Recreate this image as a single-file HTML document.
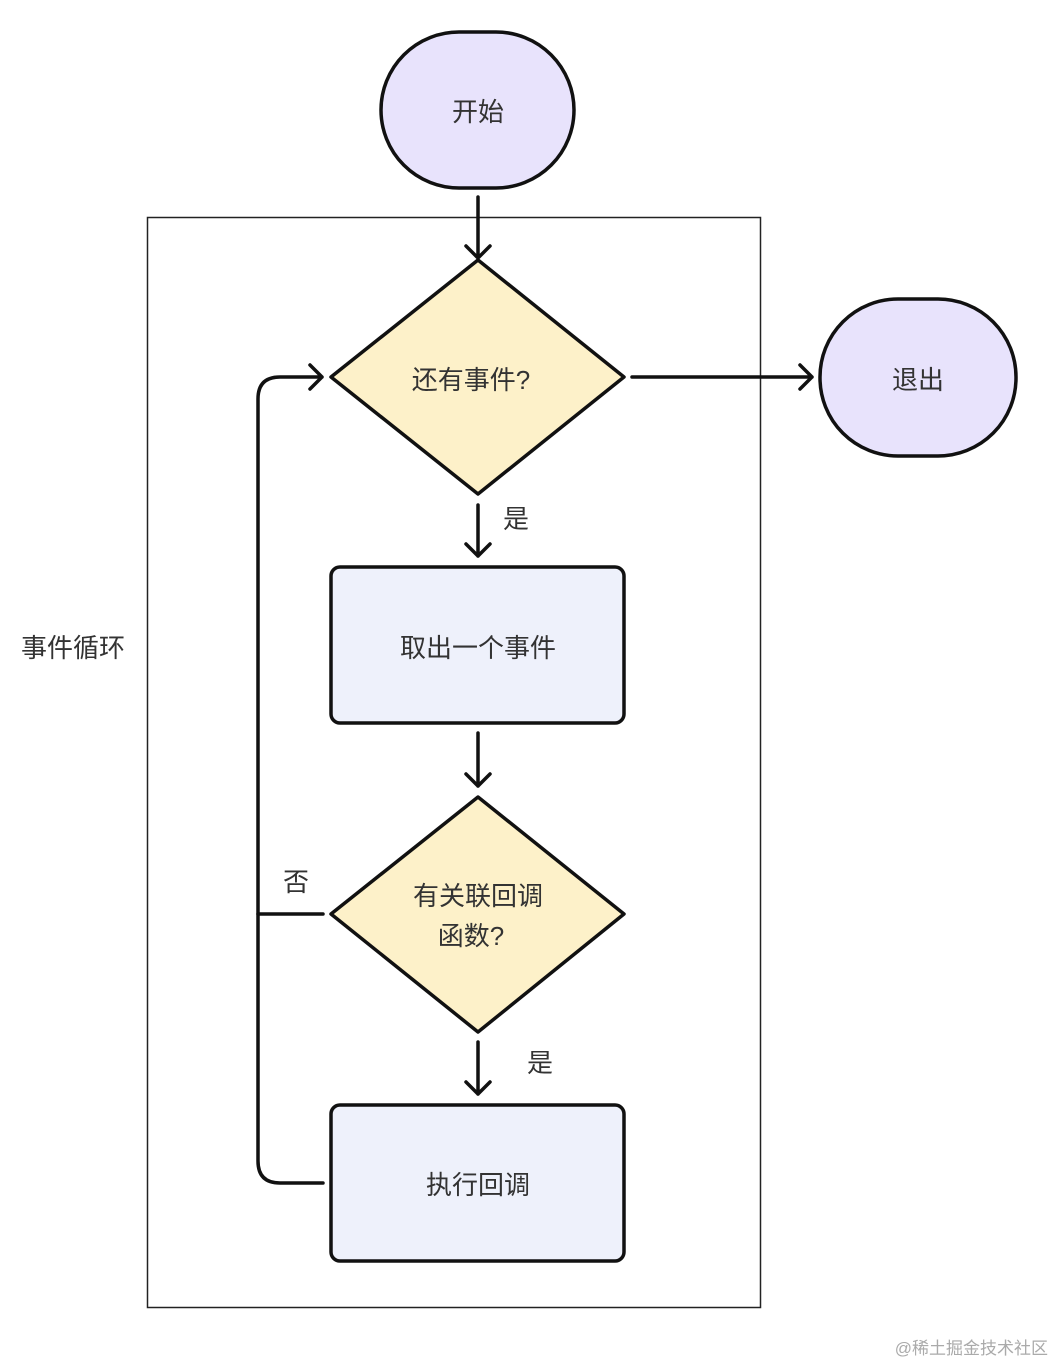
<!DOCTYPE html>
<html><head><meta charset="utf-8"><style>
html,body{margin:0;padding:0;background:#fff;}
svg text{font-family:"Liberation Sans","Noto Sans CJK SC",sans-serif;fill:#333;}
</style></head><body>
<svg width="1056" height="1364" viewBox="0 0 1056 1364" xmlns="http://www.w3.org/2000/svg">
<rect x="147.5" y="217.5" width="613" height="1090" fill="none" stroke="#222" stroke-width="1.5"/>
<g stroke="#111" stroke-width="3.5" fill="none" stroke-linecap="round" stroke-linejoin="round">
<rect x="381" y="32" width="193" height="156" rx="78" fill="#e8e3fc"/>
<rect x="820" y="299" width="196" height="157" rx="78" fill="#e8e3fc"/>
<polygon points="478,260 624,377 478,494 331,377" fill="#fdf1c9"/>
<polygon points="478,797 624,914 478,1032 331,914" fill="#fdf1c9"/>
<rect x="331" y="567" width="293" height="156" rx="9" fill="#eef1fb"/>
<rect x="331" y="1105" width="293" height="156" rx="9" fill="#eef1fb"/>
<path d="M478 197V258 M466 246L478 258L490 246"/>
<path d="M478 505V556 M466 544L478 556L490 544"/>
<path d="M478 733V786 M466 774L478 786L490 774"/>
<path d="M478 1042V1094 M466 1082L478 1094L490 1082"/>
<path d="M632 377H812 M800 365L812 377L800 389"/>
<path d="M323 1183H280Q258 1183 258 1161V399Q258 377 280 377H322 M310 365L322 377L310 389"/>
<path d="M323 914H258"/>
</g>
<g font-size="26" text-anchor="middle">
<text x="478" y="121">开始</text>
<text x="918" y="389">退出</text>
<text x="471" y="389">还有事件?</text>
<text x="478" y="657">取出一个事件</text>
<text x="478" y="905">有关联回调</text>
<text x="471" y="945">函数?</text>
<text x="478" y="1194">执行回调</text>
<text x="516" y="528">是</text>
<text x="540" y="1072">是</text>
<text x="296" y="891">否</text>
<text x="73" y="657">事件循环</text>
</g>
<text x="1048" y="1354" font-size="17" text-anchor="end" style="fill:#aaa">@稀土掘金技术社区</text>
</svg>
</body></html>
